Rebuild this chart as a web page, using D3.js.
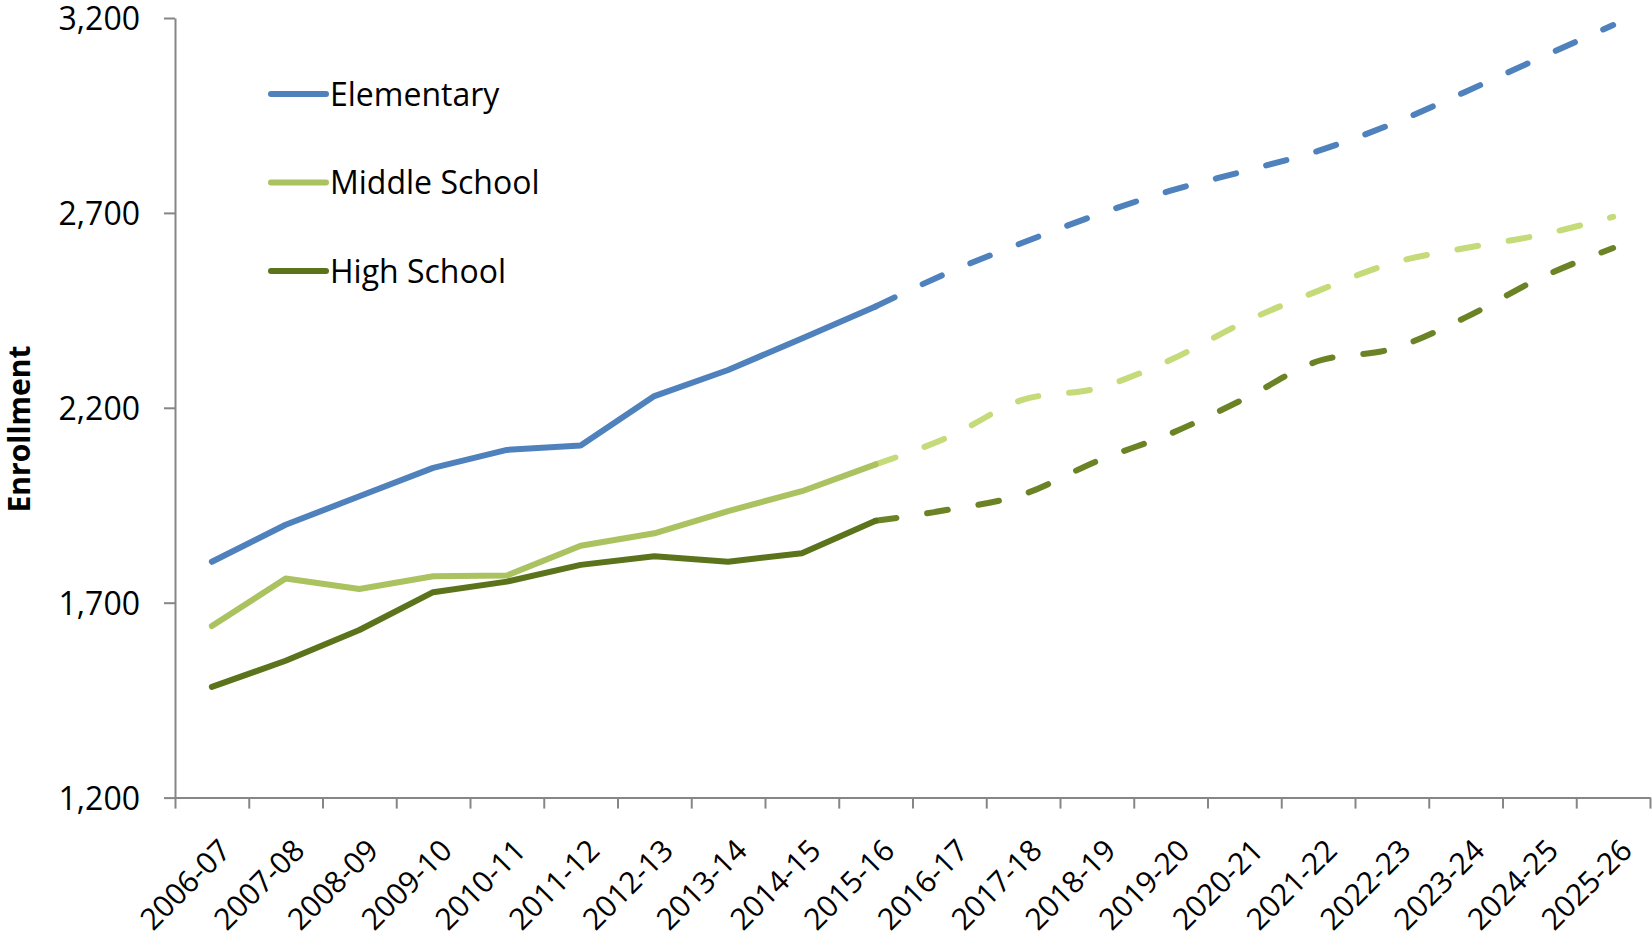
<!DOCTYPE html>
<html>
<head>
<meta charset="utf-8">
<script src="https://cdn.jsdelivr.net/npm/d3@7"></script>
<style>
  body { margin: 0; background: #fff; }
  text { font-family: "Open Sans", "DejaVu Sans", sans-serif; fill: #000; }
</style>
</head>
<body>
<script>
// school years on the x axis
var years = ['2006-07','2007-08','2008-09','2009-10','2010-11','2011-12','2012-13','2013-14','2014-15','2015-16',
             '2016-17','2017-18','2018-19','2019-20','2020-21','2021-22','2022-23','2023-24','2024-25','2025-26']
var last_actual = 9 // 2015-16, projections start here

var elementary    = [1805,1900,1973,2046,2092,2103,2230,2297,2378,2460, 2548,2624,2695,2757,2807,2859,2928,3011,3097,3182]
var middle_school = [1640,1762,1735,1768,1770,1846,1878,1935,1986,2055, 2126,2221,2250,2323,2420,2500,2571,2610,2643,2690]
var high_school   = [1484,1551,1630,1727,1754,1797,1819,1805,1827,1910, 1939,1978,2063,2134,2223,2320,2351,2432,2532,2610]

var y_ticks = [1200, 1700, 2200, 2700, 3200]
var series_names = ['Elementary', 'Middle School', 'High School']

function plot_it() {
    var svgWidth = 1652, svgHeight = 939
    var svg = d3.select('body').append('svg').attr('width', svgWidth).attr('height', svgHeight).attr('id', 'svg0')

    var left = 175, right = 1650, top = 18, bottom = 797.6
    var axis_color = '#868686'
    var font_size = '32px'

    var scale_x = d3.scaleBand().domain(years).range([left, right])
    var scale_y = d3.scaleLinear().domain([1200, 3200]).range([bottom, top])
    var edge_x = d3.scaleLinear().domain([0, years.length]).range([left, right]) // category boundaries for ticks

    var series = [
        {name: series_names[0], values: elementary,    solid: '#4F81BD', dash: '#4F81BD'},
        {name: series_names[1], values: middle_school, solid: '#ABC260', dash: '#C5DA78'},
        {name: series_names[2], values: high_school,   solid: '#5B731B', dash: '#6B8325'}
    ]

    // y axis
    var y_axis = svg.append('g').attr('transform', 'translate(' + left + ',0)')
        .call(d3.axisLeft(scale_y).tickValues(y_ticks).tickFormat(d3.format(',')).tickSize(11).tickSizeOuter(0).tickPadding(24))
    y_axis.select('.domain').attr('stroke', axis_color).attr('stroke-width', 2)
    y_axis.selectAll('.tick line').attr('stroke', axis_color).attr('stroke-width', 2)
    y_axis.selectAll('text').style('font-size', font_size).attr('dy', '0.36em')

    // x axis, ticks on category boundaries
    var x_axis = svg.append('g').attr('transform', 'translate(0,' + bottom + ')')
        .call(d3.axisBottom(edge_x).tickValues(d3.range(years.length + 1)).tickFormat('').tickSize(11).tickSizeOuter(0))
    x_axis.select('.domain').attr('stroke', axis_color).attr('stroke-width', 2)
    x_axis.selectAll('.tick line').attr('stroke', axis_color).attr('stroke-width', 2)

    svg.append('g').selectAll('text').data(years).enter().append('text')
        .attr('transform', d => 'translate(' + (scale_x(d) + scale_x.bandwidth() / 2 + 13) + ',' + (bottom + 47) + ') rotate(-45)')
        .attr('text-anchor', 'end').attr('dy', '0.36em')
        .style('font-size', '30px')
        .text(d => d)

    // axis title
    svg.append('text')
        .attr('transform', 'translate(30,' + 429 + ') rotate(-90)')
        .attr('text-anchor', 'middle')
        .style('font-size', '30px').style('font-weight', 'bold')
        .text('Enrollment')

    var line = d3.line()
        .x(d => scale_x(years[d.i]) + scale_x.bandwidth() / 2)
        .y(d => scale_y(d.v))

    series.forEach(s => {
        var pts = s.values.map((v, i) => ({i: i, v: v}))
        // projected part first, solid drawn over it
        svg.append('path')
            .attr('fill', 'none').attr('stroke', s.dash).attr('stroke-width', 6)
            .attr('stroke-linecap', 'round').attr('stroke-linejoin', 'round')
            .attr('stroke-dasharray', '21,31')
            .attr('d', line.curve(d3.curveMonotoneX)(pts.slice(last_actual)))
        svg.append('path')
            .attr('fill', 'none').attr('stroke', s.solid).attr('stroke-width', 6)
            .attr('stroke-linecap', 'round').attr('stroke-linejoin', 'round')
            .attr('d', line.curve(d3.curveLinear)(pts.slice(0, last_actual + 1)))
    })

    // legend
    var legend = svg.append('g').attr('id', 'legend')
    var legend_y = d3.scalePoint().domain(series_names).range([94, 271])
    legend.selectAll('line').data(series).enter().append('line')
        .attr('x1', 271).attr('x2', 326)
        .attr('y1', d => legend_y(d.name)).attr('y2', d => legend_y(d.name))
        .attr('stroke', d => d.solid).attr('stroke-width', 6).attr('stroke-linecap', 'round')
    legend.selectAll('text').data(series).enter().append('text')
        .attr('x', 330).attr('y', d => legend_y(d.name)).attr('dy', '0.36em')
        .style('font-size', font_size)
        .text(d => d.name)
}

plot_it()
</script>
</body>
</html>
